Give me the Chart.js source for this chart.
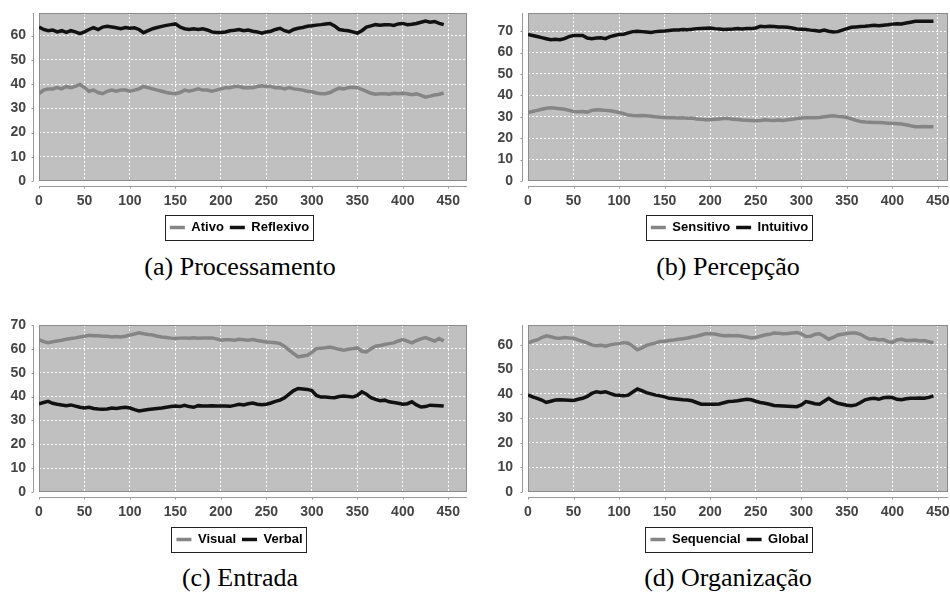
<!DOCTYPE html>
<html><head><meta charset="utf-8">
<script src="https://cdn.jsdelivr.net/npm/chart.js@4.4.1/dist/chart.umd.min.js"></script>
<style>
body{margin:0;background:#fff;width:950px;height:592px;position:relative;overflow:hidden;}
.box{position:absolute;}
.cap{position:absolute;font-family:"Liberation Serif","Times New Roman",serif;font-size:26px;color:#000;text-align:center;width:340px;line-height:30px;}
</style></head><body>
<div class="box" style="left:0;top:0"><canvas id="cA" width="475" height="244"></canvas></div>
<div class="box" style="left:475px;top:0"><canvas id="cB" width="475" height="244"></canvas></div>
<div class="box" style="left:0;top:310px"><canvas id="cC" width="475" height="246"></canvas></div>
<div class="box" style="left:475px;top:310px"><canvas id="cD" width="475" height="246"></canvas></div>
<div class="cap" style="left:70px;top:252px">(a) Processamento</div>
<div class="cap" style="left:558px;top:252px">(b) Percepção</div>
<div class="cap" style="left:70px;top:563px">(c) Entrada</div>
<div class="cap" style="left:558px;top:563px">(d) Organização</div>
<script>
const xs = [0,5,10,15,20,25,30,35,40,45,50,55,60,65,70,75,80,85,90,95,100,105,110,115,120,125,130,135,140,145,150,155,160,165,170,175,180,185,190,195,200,205,210,215,220,225,230,235,240,245,250,255,260,265,270,275,280,285,290,295,300,305,310,315,320,325,330,335,340,345,350,355,360,365,370,375,380,385,390,395,400,405,410,415,420,425,430,435,440,445];
const xTicks = [0,50,100,150,200,250,300,350,400,450];

const ativo = [36,37.5,38,38,38.5,38,39,38.5,39,39.8,38.5,37,37.5,36.5,36,37,37.5,37,37.5,37.5,37,37.5,38,39,38.5,38,37.5,37,36.5,36.2,36,36.5,37.5,37,37.5,38,37.5,37.5,37,37.5,38,38.5,38.5,39,39,38.5,38.5,38.5,39,39.3,39,39,38.5,38.5,38,38.5,38,37.8,37.5,37,36.8,36.3,36,36,36.5,37.5,38.3,38,38.5,38.7,38.5,37.8,37,36.2,35.8,36,36,35.8,36.2,36,36.2,36,35.6,36,35.3,34.6,35,35.5,35.8,36.3];
const reflexivo = [63.5,62.5,62,62.3,61.5,62,61.3,62,61.5,60.8,61.5,62.5,63.3,62.5,63.5,63.8,63.5,63.2,62.8,63.3,63,63.2,62.5,61.2,62,62.8,63.3,63.8,64.2,64.5,64.8,63.5,62.8,62.5,62.8,62.5,62.8,62.3,61.5,61.3,61.3,61.5,62,62.2,62.5,62,62.3,61.8,61.5,61,61.5,61.8,62.5,63,62,61.5,62.5,63,63.3,63.8,64,64.3,64.5,64.8,65,64,62.5,62.2,62,61.5,61,62,63.5,64,64.5,64.3,64.5,64.5,64.2,64.8,65,64.5,64.7,65,65.5,66,65.5,65.8,65,64.5];
const sensitivo = [32,32.5,33,33.5,34,34.2,34,33.8,33.5,33,32.5,32.4,32.5,32.2,33,33.3,33.2,33,32.8,32.5,32,31.5,30.8,30.6,30.5,30.6,30.5,30.3,30,29.8,29.7,29.5,29.6,29.4,29.5,29.3,29.4,29,28.8,28.6,28.6,28.8,29,29.2,29.2,28.8,28.7,28.5,28.4,28.3,28.2,28.3,28.6,28.4,28.3,28.5,28.3,28.6,28.8,29.2,29.4,29.5,29.6,29.5,29.7,30,30.3,30.5,30.2,30,29.7,29,28.3,27.8,27.6,27.5,27.3,27.3,27.2,27,27,26.8,26.6,26.3,25.8,25.4,25.4,25.5,25.4,25.4];
const intuitivo = [68.5,68,67.5,67,66.5,66,66.2,66,66.5,67.5,68,68,68,66.8,66.5,66.8,66.9,66.5,67.5,68,68.5,68.6,69.2,69.8,70,69.8,69.6,69.4,69.8,70,70.1,70.3,70.5,70.6,70.8,70.7,70.9,71.2,71.3,71.4,71.5,71.2,71,70.8,70.9,71,71.3,71,71.2,71.2,71.5,72.3,72.1,72.3,72.2,72,72,71.8,71.5,71,70.9,70.8,70.5,70.3,70,70.5,70,69.6,69.8,70.5,71.2,71.8,72,72.2,72.3,72.5,72.8,72.5,72.8,73,73.3,73.5,73.4,73.8,74.2,74.6,74.6,74.7,74.6,74.6];
const visual = [63.9,63,62.6,63,63.3,63.6,64,64.3,64.6,65,65.3,65.7,65.5,65.5,65.3,65.3,65,65.2,65,65.3,65.8,66.2,66.7,66.3,66,65.8,65.3,65,64.8,64.5,64.3,64.5,64.6,64.4,64.6,64.4,64.5,64.6,64.6,64.2,63.6,63.8,63.8,63.6,64,63.8,63.6,63.9,63.5,63.2,62.9,62.8,62.6,62.2,61,59.5,58,56.6,57,57.3,58.5,60.1,60.3,60.5,60.8,60.3,59.8,59.4,59.8,60.1,60.4,59,58.7,60,61.1,61.4,61.8,62.2,62.5,63.3,63.9,63.2,62.5,63.5,64.2,64.7,64,63.3,64.3,63.3];
const verbal = [37,37.5,38,37.2,36.8,36.5,36.2,36.5,36,35.5,35.2,35.5,35,34.8,34.7,34.8,35.2,35,35.3,35.5,35.2,34.5,34,34.3,34.6,34.8,35,35.2,35.5,35.8,36,35.8,36.3,35.8,35.5,36.2,36,36,36.2,36,36,36,35.9,36.3,36.8,36.5,37,37.3,36.8,36.6,36.8,37.3,38,38.5,39.5,41,42.5,43.4,43.2,43,42.5,40.5,39.8,39.8,39.6,39.5,40,40.2,40,39.8,40.5,42,41,39.5,38.8,38.3,38.5,37.8,37.5,37.2,36.8,37,37.8,36.5,35.6,35.8,36.4,36.3,36.2,36];
const sequencial = [60.7,61.5,62,63,63.7,63.3,62.8,62.7,63,62.8,62.7,62,61.4,60.8,60,59.6,59.8,59.5,60,60.3,60.5,60.9,60.7,59.5,58,58.8,59.8,60.3,60.8,61.4,61.5,61.8,62,62.3,62.5,62.8,63.2,63.5,64,64.5,64.5,64.4,64,63.7,63.8,63.7,63.8,63.5,63.2,62.8,63,63.5,64,64.3,64.8,64.7,64.5,64.6,64.8,65,64.5,63.4,63.5,64.3,64.5,63.5,62.3,63,64,64.3,64.6,64.8,64.8,64.3,63.2,62.3,62.5,62,62.2,61.3,61,62,62.3,61.8,61.8,62,61.6,61.8,61.3,60.9];
const global = [39.6,38.8,38.2,37.5,36.5,37,37.5,37.6,37.5,37.4,37.3,37.8,38.2,39,40.2,40.9,40.6,40.9,40.2,39.6,39.5,39.3,39.5,40.8,42,41.3,40.5,40,39.5,39.2,38.8,38.2,38,37.8,37.6,37.5,37.2,36.5,35.8,35.8,35.8,35.8,35.9,36.4,36.9,37,37.2,37.5,37.8,37.6,37,36.5,36.2,35.8,35.3,35.2,35.1,35,34.9,34.8,35.5,36.9,36.5,36,35.8,37,38.2,37,36.2,35.8,35.4,35.2,35.5,36.5,37.6,38,38.2,37.8,38.4,38.6,38.5,37.8,37.6,38,38.2,38.2,38.3,38.2,38.6,39.2];

const GRAY = '#858585', BLACK = '#111111';
const TICKFONT = {family:'"Liberation Sans", Arial, sans-serif', size:14, weight:'bold'};

const plotDeco = {
  id:'plotDeco',
  beforeDraw(chart){
    const {ctx, chartArea:a} = chart;
    ctx.save();
    ctx.fillStyle = '#c0c0c0';
    ctx.fillRect(a.left, a.top, a.right-a.left, a.bottom-a.top);
    ctx.restore();
  },
  beforeDatasetsDraw(chart){
    const {ctx, chartArea:a, scales} = chart;
    ctx.save();
    ctx.strokeStyle = '#8c8c8c';
    ctx.lineWidth = 1;
    ctx.strokeRect(Math.round(a.left)+0.5, Math.round(a.top)+0.5, Math.round(a.right-a.left)-1, Math.round(a.bottom-a.top)-1);
    const ax = Math.round(a.left) - 6 + 0.5;
    ctx.strokeStyle = '#999999';
    ctx.beginPath(); ctx.moveTo(ax, a.top); ctx.lineTo(ax, a.bottom); ctx.stroke();
    scales.y.ticks.forEach(t=>{ const py = Math.round(scales.y.getPixelForValue(t.value))+0.5; ctx.beginPath(); ctx.moveTo(ax-2, py); ctx.lineTo(ax, py); ctx.stroke(); });
    const ay = Math.round(a.bottom) + 5 + 0.5;
    ctx.beginPath(); ctx.moveTo(a.left, ay); ctx.lineTo(a.right, ay); ctx.stroke();
    scales.x.ticks.forEach(t=>{ const px = Math.round(scales.x.getPixelForValue(t.value))+0.5; ctx.beginPath(); ctx.moveTo(px, ay); ctx.lineTo(px, ay+2); ctx.stroke(); });
    ctx.restore();
  }
};
const legendShift = {
  id:'legendShift',
  afterLayout(chart, args, opts){
    const lg = chart.legend; if(!lg) return;
    lg.left += opts.dx || 0; lg.right += opts.dx || 0;
  }
};
const legendFrame = {
  id:'legendFrame',
  afterDraw(chart){
    const lg = chart.legend; if(!lg || !lg.legendHitBoxes || !lg.legendHitBoxes.length) return;
    let l=Infinity,r=-Infinity,t=Infinity,b=-Infinity;
    lg.legendHitBoxes.forEach(h=>{l=Math.min(l,h.left);r=Math.max(r,h.left+h.width);t=Math.min(t,h.top);b=Math.max(b,h.top+h.height);});
    const ctx = chart.ctx; ctx.save(); ctx.strokeStyle='#222'; ctx.lineWidth=1;
    ctx.strokeRect(Math.round(l-5)+0.5, Math.round(t-6)+0.5, Math.round(r-l+9), Math.round(b-t+12));
    ctx.restore();
  }
};

function makeChart(id, names, series, cfg){
  const colors = [GRAY, BLACK];
  new Chart(document.getElementById(id), {
    type:'line',
    data:{ datasets: series.map((s,i)=>({
      label:names[i], data: xs.map((x,j)=>({x:x, y:s[j]})),
      borderColor:colors[i], backgroundColor:colors[i], borderWidth:3.5, pointRadius:0, tension:0, fill:false
    }))},
    options:{
      responsive:false, animation:false, devicePixelRatio:1,
      layout:{padding:{left:0, right:cfg.padR, top:cfg.padT, bottom:0}},
      plugins:{
        legend:{position:'bottom', labels:{usePointStyle:true, pointStyle:'line', pointStyleWidth:15, color:'#000', padding:6, font:{family:'"Liberation Sans", Arial, sans-serif', size:13, weight:'bold'}}},
        legendShift:{dx:cfg.legDx},
        tooltip:{enabled:false}
      },
      scales:{
        x:{type:'linear', min:0, max:cfg.xmax,
           afterBuildTicks(s){ s.ticks = xTicks.map(v=>({value:v})); },
           afterFit(s){ s.height = cfg.xh; s.paddingLeft = 0; s.paddingRight = 0; },
           grid:{color:'rgba(255,255,255,0.95)', lineWidth:1, drawTicks:false},
           border:{display:false, dash:[2,2]},
           ticks:{color:'#444', font:TICKFONT, padding:12, maxRotation:0, autoSkip:false}},
        y:{type:'linear', min:0, max:cfg.ymax,
           afterBuildTicks(s){ s.ticks = cfg.yTicks.map(v=>({value:v})); },
           afterFit(s){ s.width = cfg.yw; s.paddingTop = 0; s.paddingBottom = 0; },
           grid:{color:'rgba(255,255,255,0.95)', lineWidth:1, drawTicks:false},
           border:{display:false, dash:[2,2]},
           ticks:{color:'#444', font:TICKFONT, padding:cfg.yPad, autoSkip:false}}
      }
    },
    plugins:[plotDeco, legendShift, legendFrame]
  });
}

const yTicks70 = [0,10,20,30,40,50,60,70];
const yTicks60 = [0,10,20,30,40,50,60];

makeChart('cA', ['Ativo','Reflexivo'], [ativo, reflexivo], {padR:8, padT:13, yw:39, yPad:13, xh:34, xmax:470.6, ymax:69.3, yTicks:yTicks60, legDx:6});
makeChart('cB', ['Sensitivo','Intuitivo'], [sensitivo, intuitivo], {padR:2, padT:13, yw:53, yPad:15, xh:34, xmax:461, ymax:78.5, yTicks:yTicks70, legDx:18});
makeChart('cC', ['Visual','Verbal'], [visual, verbal], {padR:8, padT:15, yw:39, yPad:13, xh:35, xmax:470.6, ymax:70, yTicks:yTicks70, legDx:6});
makeChart('cD', ['Sequencial','Global'], [sequencial, global], {padR:2, padT:15, yw:53, yPad:15, xh:35, xmax:461, ymax:68.1, yTicks:yTicks60, legDx:18});
</script>
</body></html>
